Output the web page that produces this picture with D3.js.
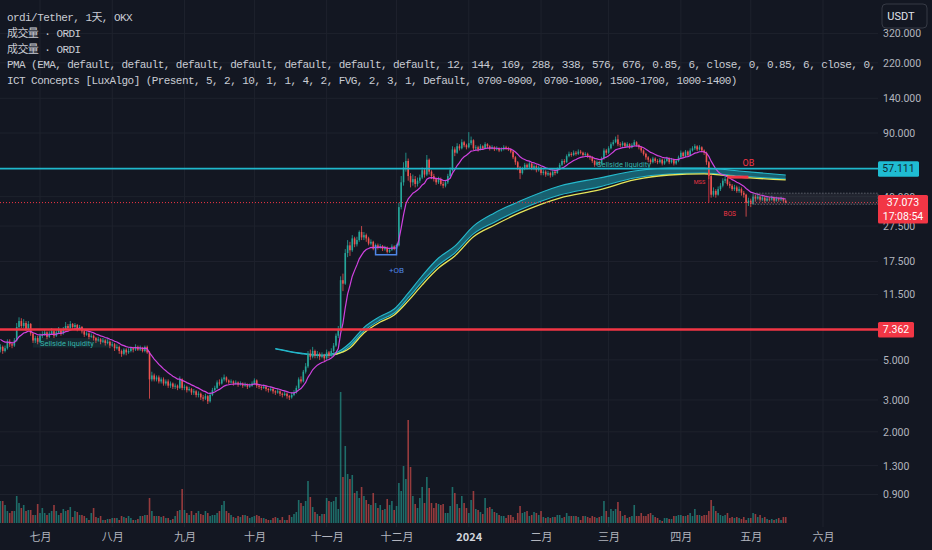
<!DOCTYPE html>
<html>
<head>
<meta charset="utf-8">
<script src="https://cdn.jsdelivr.net/npm/d3@7"></script>
<style>
  html, body { margin: 0; padding: 0; background: #131722; }
  svg { display: block; }
</style>
</head>
<body>
<svg id="chart"></svg>
<script>
// daily candles, first bar = 2023-06-14, open of each bar = previous close
var firstOpen = 5.7;
var closes = [
  5.9,5.6,5.8,6.3,6.1,6.0,6.4,7.6,8.2,7.7,
  8.0,7.4,7.9,7.0,6.4,6.6,6.3,6.8,6.9,7.1,
  6.7,7.0,7.2,6.8,7.1,7.3,7.0,7.4,7.7,7.5,
  7.9,7.6,7.8,7.4,7.6,7.2,6.9,7.0,6.7,6.8,
  6.6,6.4,6.5,6.3,6.4,6.2,6.3,6.0,6.1,5.8,
  5.9,5.6,5.4,5.7,5.5,5.6,5.8,5.7,5.9,5.7,
  5.8,5.6,5.9,5.5,3.9,4.1,3.9,4.0,3.8,3.9,
  3.7,3.8,3.6,3.7,3.55,3.6,3.5,3.9,3.5,3.55,
  3.4,3.45,3.3,3.35,3.2,3.25,3.1,3.05,3.15,2.95,
  3.2,3.4,3.5,3.75,3.7,3.9,4.0,3.85,3.75,3.8,
  3.7,3.75,3.65,3.7,3.6,3.65,3.55,3.6,3.7,3.85,
  3.6,3.55,3.5,3.55,3.45,3.4,3.45,3.35,3.3,3.35,
  3.25,3.2,3.25,3.15,3.1,3.2,3.3,3.5,3.9,3.8,
  4.3,4.6,5.4,5.2,5.6,5.3,5.4,5.2,5.3,5.1,
  5.5,5.3,5.6,6.0,6.8,7.4,13.8,13.2,19.5,21.5,
  20.2,23.5,21.8,23.0,25.5,23.8,24.5,23.5,22.0,22.5,
  20.6,21.5,21.0,21.3,20.5,20.9,19.8,20.3,21.2,20.6,
  21.5,35,48,58,63,52,48,50,47,49,
  51,56,53,64,55,52,50,48,50,47,
  46,48,52,56,73,70,76,74,80,77,
  75,79,82,74,75,73,76,74,78,76,
  74,75,73,74,72,73,75,74,73,71,
  66,62,58,54,57,60,58,61,57,59,
  56,58,54,55,53,54,52.5,55,54,57,
  60,63,62,67,69,68,70,69,71,70,
  68,69,67,66,63,60,62,61,65,72,
  70,74,78,80,83,78,77,79,76,78,
  75,77,80,77,75,72,69,66,64,62,
  65,63,62,64,61,63,65,62,64,61,
  63,66,70,67,71,68,72,74,76,73,
  75,72,70,62,52,41,43,41,44,46,
  49,50,47,46,44,45,43,44,42,41,
  37,38,36.5,40,39,40,38.5,39.5,38,39,
  38.5,39.5,38,39,38.5,39,38,37.073
];
var highs = [
  6.1,6.0,6.0,6.5,6.5,6.3,6.6,8.0,8.6,8.5,
  8.4,8.2,8.2,8.0,7.1,6.8,6.8,7.0,7.2,7.4,
  7.2,7.2,7.5,7.3,7.3,7.6,7.4,7.6,8.1,7.9,
  8.2,8.0,8.0,7.9,7.8,7.7,7.3,7.2,7.1,7.0,
  6.9,6.7,6.7,6.6,6.6,6.5,6.5,6.4,6.3,6.2,
  6.1,6.0,5.7,5.8,5.8,5.8,5.9,5.9,6.1,6.0,
  6.0,5.9,6.0,6.0,5.6,4.3,4.2,4.1,4.1,4.0,
  4.0,3.9,3.9,3.8,3.75,3.7,3.65,4.05,3.95,3.65,
  3.6,3.55,3.5,3.45,3.4,3.35,3.3,3.2,3.25,3.2,
  3.3,3.5,3.6,3.85,3.9,4.0,4.15,4.05,3.9,3.9,
  3.85,3.85,3.8,3.8,3.75,3.75,3.7,3.7,3.8,3.95,
  3.9,3.65,3.6,3.65,3.6,3.5,3.55,3.5,3.4,3.45,
  3.4,3.3,3.35,3.3,3.2,3.3,3.4,3.6,4.0,4.05,
  4.4,4.8,5.6,5.7,5.9,5.7,5.6,5.5,5.5,5.4,
  5.7,5.6,5.8,6.2,7.0,7.7,14.5,15.0,20.5,23.0,
  22.5,24.5,24.0,24.0,26.0,27.5,25.5,25.0,24.0,23.2,
  22.8,22.0,22.0,21.9,21.6,21.4,21.2,20.8,21.8,21.5,
  22.0,37,52,62,70,65,54,53,52,51,
  53,58,57,68,65,56,53.5,51,51.5,51,
  48.5,49.5,53.5,58,76,75,79,78,83,81.5,
  78.5,91,86,83,77,76.5,78,77,80,79,
  77,77,76,76,75,75,77,76.5,75.5,74,
  72,67,63,59,58.5,61.5,61,62.5,62,60.5,
  60,59.5,58.5,56.5,56,55.5,55,56,56.5,58,
  61.5,64.5,64.5,68.5,71,70.5,72,71.5,73,72.5,
  71,70.5,70,68,67,64,63.5,63,66.5,74,
  73.5,76,80,82.5,86,88,80,81,80,80,
  79,79,82.5,81,78,76,73,70,67,65,
  66.5,66,64.5,65.5,65,64.5,66.5,66,65.5,65,
  64.5,67.5,72,71,72.5,72,74,76,78,77,
  77,76,73,71,63,53,45,44,45.5,47.5,
  50.5,52,51,48.5,47,46.5,46,45.5,45,43,
  41.5,39.5,39,41,41,41.5,40.5,40.5,40,40,
  39.8,40.5,40,40,39.6,40,39.5,38.5
];
var lows = [
  5.5,5.4,5.5,5.7,5.9,5.8,5.9,6.3,7.4,7.5,
  7.5,7.2,7.3,6.8,6.2,6.2,6.1,6.2,6.6,6.8,
  6.5,6.6,6.9,6.6,6.7,7.0,6.8,6.9,7.3,7.3,
  7.4,7.4,7.4,7.2,7.3,7.0,6.7,6.8,6.5,6.6,
  6.4,6.2,6.3,6.1,6.2,6.0,6.1,5.8,5.9,5.6,
  5.7,5.4,5.2,5.3,5.3,5.4,5.5,5.5,5.6,5.6,
  5.6,5.5,5.5,5.4,3.05,3.8,3.8,3.8,3.7,3.7,
  3.6,3.6,3.5,3.5,3.45,3.45,3.4,3.45,3.4,3.4,
  3.3,3.35,3.2,3.2,3.1,3.1,3.0,2.95,3.0,2.85,
  2.9,3.15,3.35,3.45,3.6,3.65,3.8,3.75,3.65,3.7,
  3.6,3.65,3.55,3.6,3.5,3.55,3.45,3.5,3.55,3.65,
  3.5,3.45,3.4,3.45,3.35,3.3,3.35,3.25,3.2,3.25,
  3.15,3.1,3.15,3.05,3.0,3.05,3.15,3.25,3.45,3.7,
  3.75,4.2,4.5,5.0,5.1,5.1,5.1,5.0,5.1,4.9,
  5.0,5.1,5.2,5.5,5.9,6.6,7.2,12.0,13.0,18.5,
  18.8,19.8,21.0,21.2,22.5,23.0,23.0,22.5,21.5,21.5,
  20.2,20.0,20.4,20.6,20.0,20.1,19.4,19.5,20.0,20.2,
  20.3,21.2,34,46,55,49,45,46,45,45.5,
  47.5,50,51,52,53,50,48.5,46.5,47,46,
  44.5,45,47,51,55,67,69,72,73,75,
  73,74,77,72,72,71,72,72.5,73,74,
  72,73,71.5,72,70.5,71,72,72.5,71.5,69.5,
  64.5,60,56,50,53,56,56.5,57,56,56,
  54.5,55,52.5,52.5,51.5,52,51,51.5,52.5,53.5,
  56,59,60.5,61.5,66,66.5,67,67.5,68,68.5,
  66.5,67,65.5,64,61.5,58.5,59,59.5,60,64,
  68,69,73,76.5,79,76,75,75.5,74.5,75,
  73.5,74,76,75.5,73,70,67.5,64,62,60.5,
  61,61.5,60.5,61,59.5,60,62,60.5,61,59.5,
  60,62,65,65.5,66,66.5,67,71,72.5,71.5,
  72,70.5,68,60,50,39.5,40,39.5,40.5,43,
  45,47.5,46,44.5,43,43,42,42,40.5,39.5,
  31,35.5,35,36,37.5,38.5,37.5,37.8,37,37.5,
  37.6,38,37.2,37.5,37.5,37.8,37.3,36.8
];
// volume in millions of ORDI
var volumes = [
  2.2,2.2,1.8,1.2,1.0,1.2,1.2,2.7,2.0,1.5,
  1.8,1.2,1.3,1.3,0.8,0.8,1.9,1.0,1.5,1.0,
  0.8,1.0,1.2,1.8,1.2,0.8,1.0,1.4,1.2,1.3,
  1.6,0.6,1.2,1.1,0.8,0.8,0.7,0.5,0.3,1.0,
  1.5,0.6,0.5,0.7,0.3,0.3,0.4,0.4,0.5,0.5,
  0.5,0.3,0.7,0.6,0.5,0.7,0.5,0.3,0.3,0.4,
  0.7,0.7,0.8,0.8,2.5,1.2,0.7,0.7,0.7,0.6,
  0.7,0.5,0.5,0.3,0.4,0.7,1.2,1.3,3.4,1.3,
  1.0,0.8,1.2,0.8,1.0,1.2,0.9,0.8,1.2,1.0,
  0.7,0.8,0.8,1.0,1.2,1.8,2.2,1.2,1.0,0.8,
  0.6,0.5,0.7,0.6,0.8,0.8,0.7,0.5,0.6,0.7,
  0.8,0.7,0.5,0.5,0.4,0.3,0.3,0.5,0.6,0.5,
  0.3,0.6,0.3,0.3,0.8,0.6,0.9,1.1,2.3,2.0,
  1.7,2.2,4.2,2.6,1.6,1.1,0.9,0.7,0.9,0.9,
  2.5,2.2,2.1,2.2,2.6,1.4,13.1,4.6,7.7,4.9,
  4.4,4.8,3.0,3.2,2.5,3.6,2.7,2.3,1.9,1.8,
  3.0,2.0,1.5,1.8,1.3,1.4,2.4,1.8,2.2,1.3,
  1.7,4.0,3.2,5.7,4.4,10.3,5.6,2.7,1.9,1.5,
  2.5,3.6,2.0,4.6,3.5,2.0,1.5,2.0,1.9,1.8,
  1.9,1.0,1.0,1.7,3.6,3.0,1.9,1.5,2.7,2.0,
  1.5,1.0,2.3,3.2,1.4,1.3,1.1,0.9,2.5,1.5,
  1.6,1.4,1.1,1.0,0.8,0.7,0.7,0.5,0.8,0.8,
  0.6,0.3,1.0,1.7,1.0,1.1,1.2,0.7,0.8,1.1,
  1.0,0.8,1.2,0.6,0.5,0.6,0.5,0.6,0.6,0.8,
  0.8,0.5,0.6,1.0,0.7,0.7,0.7,0.7,0.6,0.3,
  0.7,0.7,0.6,0.5,0.7,0.6,0.5,0.6,0.7,2.2,
  1.2,0.6,1.4,1.2,1.4,2.1,1.2,0.7,0.8,0.5,
  0.6,0.7,1.8,0.7,0.7,1.0,0.7,0.7,0.9,1.0,
  0.8,0.6,0.5,0.3,0.2,0.5,0.5,0.4,0.4,0.7,
  0.7,0.8,0.8,0.7,0.7,0.8,1.0,0.7,1.4,0.8,
  0.8,0.7,0.8,0.8,1.2,2.3,1.7,1.2,1.0,0.8,
  0.7,0.8,1.0,0.5,0.6,0.5,0.6,0.5,0.4,0.6,
  0.3,0.5,0.5,1.0,0.9,0.6,0.8,0.5,0.6,0.4,
  0.3,0.4,0.3,0.4,0.5,0.3,0.6,0.6
];

var emaLength = 12;
var emaSeed = 6.6;
var tunnelBars = [118, 129, 138, 144, 150, 156, 163, 169, 175, 181, 188, 195, 203, 212, 223, 240, 257, 272, 287, 302, 317, 337];
var tunnelUpper = [5.78, 5.45, 5.32, 5.48, 6.2, 7.55, 8.7, 9.56, 11.7, 14.6, 18.3, 21.3, 27.5, 32.5, 37.8, 45.8, 50.7, 55.4, 57.6, 57.6, 55.4, 52.7];
var tunnelLower = [5.74, 5.41, 5.27, 5.36, 5.98, 7.22, 8.3, 9.08, 11.0, 13.5, 16.7, 19.5, 24.9, 28.9, 33.8, 40.8, 45.3, 50.7, 53.4, 54.1, 52.0, 50.1];
var slowBars = [143, 150, 156, 163, 169, 175, 181, 188, 195, 203, 212, 223, 240, 257, 272, 287, 302, 317, 337];
var slowLine = [5.33, 5.82, 7.04, 8.1, 8.86, 10.6, 13.0, 16.1, 18.8, 24.0, 27.8, 32.6, 39.3, 43.6, 49.5, 52.7, 53.4, 51.3, 49.5];

var priceTicks = [320, 220, 140, 90, 40, 27.5, 17.5, 11.5, 5, 3, 2, 1.3, 0.9];
var monthLabels = ['七月', '八月', '九月', '十月', '十一月', '十二月', '2024', '二月', '三月', '四月', '五月', '六月'];

var redLevel = 7.362;
var tealLevel = 57.111;
var lastPrice = 37.073;
var countdown = '17:08:54';

var legendLines = [
  'ordi/Tether, 1天, OKX',
  '成交量 · ORDI',
  '成交量 · ORDI',
  'PMA (EMA, default, default, default, default, default, default, default, 12, 144, 169, 288, 338, 576, 676, 0.85, 6, close, 0, 0.85, 6, close, 0,',
  'ICT Concepts [LuxAlgo] (Present, 5, 2, 10, 1, 1, 4, 2, FVG, 2, 3, 1, Default, 0700-0900, 0700-1000, 1500-1700, 1000-1400)'
];

var upColor = '#26a69a';
var downColor = '#ef5350';
var ictRed = '#f23645';
var plotRight = 878;

var width = 932;
var height = 550;

var svg = d3.select('#chart')
  .attr('width', width)
  .attr('height', height)
  .style('background', '#131722');

var startDay = Date.UTC(2023, 5, 14);
function barDate(i) { return new Date(startDay + i * 86400000); }

var x = d3.scaleUtc()
  .domain([new Date(Date.UTC(2023, 6, 1)), new Date(Date.UTC(2024, 5, 1))])
  .range([40, 823]);
var y = d3.scaleLog().domain([0.9, 320]).range([494.5, 33.4]);
var yVol = d3.scaleLinear().domain([0, 13.1]).range([523, 392]);

function bx(i) { return x(barDate(i)); }

var candles = closes.map(function (c, i) {
  return {
    i: i,
    o: i === 0 ? firstOpen : closes[i - 1],
    h: highs[i],
    l: lows[i],
    c: c,
    v: volumes[i]
  };
});

var monthTicks = d3.utcMonth.range(new Date(Date.UTC(2023, 6, 1)), new Date(Date.UTC(2024, 5, 2)));

svg.append('defs').append('clipPath').attr('id', 'plot')
  .append('rect').attr('x', 0).attr('y', 0).attr('width', plotRight).attr('height', 528);

// grid
var grid = svg.append('g');
grid.selectAll('.hg').data(priceTicks).enter().append('line')
  .attr('x1', 0).attr('x2', plotRight)
  .attr('y1', function (d) { return y(d); })
  .attr('y2', function (d) { return y(d); })
  .attr('stroke', '#1e222d');
grid.selectAll('.vg').data(monthTicks).enter().append('line')
  .attr('x1', function (d) { return x(d); })
  .attr('x2', function (d) { return x(d); })
  .attr('y1', 0).attr('y2', 527)
  .attr('stroke', '#1e222d');

var plot = svg.append('g').attr('clip-path', 'url(#plot)');

// volume
plot.append('g').selectAll('rect').data(candles).enter().append('rect')
  .attr('x', function (d) { return bx(d.i) - 0.8; })
  .attr('width', 1.6)
  .attr('y', function (d) { return yVol(d.v); })
  .attr('height', function (d) { return yVol(0) - yVol(d.v); })
  .attr('fill', function (d) { return d.c >= d.o ? upColor : downColor; })
  .attr('opacity', 0.6);

// sellside liquidity zone, left
plot.append('rect')
  .attr('x', bx(14)).attr('width', bx(47) - bx(14))
  .attr('y', y(6.6)).attr('height', y(5.85) - y(6.6))
  .attr('fill', 'rgba(38,166,154,0.12)');

// PMA tunnel
var tunnel = tunnelBars.map(function (b, k) { return {b: b, hi: tunnelUpper[k], lo: tunnelLower[k]}; });
plot.append('path').datum(tunnel)
  .attr('d', d3.area().curve(d3.curveMonotoneX)
    .x(function (d) { return bx(d.b); })
    .y0(function (d) { return y(d.lo); })
    .y1(function (d) { return y(d.hi); }))
  .attr('fill', 'rgba(30,170,190,0.5)');
['hi', 'lo'].forEach(function (k) {
  plot.append('path').datum(tunnel)
    .attr('d', d3.line().curve(d3.curveMonotoneX)
      .x(function (d) { return bx(d.b); })
      .y(function (d) { return y(d[k]); }))
    .attr('fill', 'none')
    .attr('stroke', '#25b9cc')
    .attr('stroke-width', 1.1);
});
plot.append('path').datum(slowBars.map(function (b, k) { return {b: b, v: slowLine[k]}; }))
  .attr('d', d3.line().curve(d3.curveMonotoneX)
    .x(function (d) { return bx(d.b); })
    .y(function (d) { return y(d.v); }))
  .attr('fill', 'none')
  .attr('stroke', '#e6e65a')
  .attr('stroke-width', 1.3);

// candles
var cg = plot.append('g');
cg.selectAll('line').data(candles).enter().append('line')
  .attr('x1', function (d) { return bx(d.i); })
  .attr('x2', function (d) { return bx(d.i); })
  .attr('y1', function (d) { return y(d.h); })
  .attr('y2', function (d) { return y(d.l); })
  .attr('stroke', function (d) { return d.c >= d.o ? upColor : downColor; })
  .attr('stroke-width', 0.8);
cg.selectAll('rect').data(candles).enter().append('rect')
  .attr('x', function (d) { return bx(d.i) - 0.8; })
  .attr('width', 1.6)
  .attr('y', function (d) { return y(Math.max(d.o, d.c)); })
  .attr('height', function (d) { return Math.max(0.8, Math.abs(y(d.o) - y(d.c))); })
  .attr('fill', function (d) { return d.c >= d.o ? upColor : downColor; });

// fast EMA
var ema = [];
var prev = emaSeed;
closes.forEach(function (c) {
  prev = prev + (c - prev) * 2 / (emaLength + 1);
  ema.push(prev);
});
plot.append('path').datum(ema)
  .attr('d', d3.line()
    .x(function (d, i) { return bx(i); })
    .y(function (d) { return y(d); }))
  .attr('fill', 'none')
  .attr('stroke', '#d042e0')
  .attr('stroke-width', 1.2);

// ICT levels
svg.append('line')
  .attr('x1', 0).attr('x2', plotRight)
  .attr('y1', y(lastPrice)).attr('y2', y(lastPrice))
  .attr('stroke', ictRed).attr('stroke-dasharray', '1,2');
svg.append('line')
  .attr('x1', 0).attr('x2', plotRight)
  .attr('y1', y(tealLevel)).attr('y2', y(tealLevel))
  .attr('stroke', '#1fb8cc').attr('stroke-width', 1.8);
svg.append('line')
  .attr('x1', 0).attr('x2', plotRight)
  .attr('y1', y(redLevel)).attr('y2', y(redLevel))
  .attr('stroke', ictRed).attr('stroke-width', 2.6);

var small = function (sel, size, color) {
  return sel.style('font-family', 'Roboto, sans-serif').style('font-size', size + 'px').attr('fill', color);
};

small(plot.append('text').attr('x', bx(17)).attr('y', y(6.15)).attr('dy', '0.35em').text('Sellside liquidity'), 7.5, '#35b5aa');
small(plot.append('text').attr('x', bx(256)).attr('y', y(tealLevel) - 2).attr('dy', '0.1em').text('Sellside liquidity'), 7.5, '#35b5aa');

// bullish order block
var ob = plot.append('g').attr('stroke', '#4f86e6').attr('stroke-width', 1.5).attr('fill', 'none');
ob.append('path').attr('d', 'M' + bx(161) + ',' + y(21.6) + 'V' + y(19.1) + 'H' + bx(170) + 'V' + y(21.6));
small(plot.append('text').attr('x', bx(170)).attr('y', y(15.7)).attr('dy', '0.35em').attr('text-anchor', 'middle').text('+OB'), 8, '#4f86e6');

// bearish structure
plot.append('line')
  .attr('x1', bx(304)).attr('x2', bx(304))
  .attr('y1', y(tealLevel)).attr('y2', y(lastPrice))
  .attr('stroke', ictRed).attr('stroke-width', 0.8);
plot.append('rect')
  .attr('x', bx(312)).attr('width', bx(321) - bx(312))
  .attr('y', y(51.3) - 1.5).attr('height', 3)
  .attr('fill', ictRed);
small(plot.append('text').attr('x', bx(321)).attr('y', y(61.4)).attr('dy', '0.35em').attr('text-anchor', 'middle').text('OB'), 9, ictRed);
small(plot.append('text').attr('x', bx(300)).attr('y', y(48.2)).attr('dy', '0.35em').attr('text-anchor', 'middle').text('MSS'), 5.5, ictRed);
small(plot.append('text').attr('x', bx(313)).attr('y', y(32.1)).attr('dy', '0.35em').attr('text-anchor', 'middle').text('BOS'), 6.5, ictRed);

// price axis
var yAxis = d3.axisRight(y).tickValues(priceTicks).tickFormat(d3.format('.3f')).tickSize(0).tickPadding(0);
var gy = svg.append('g').attr('transform', 'translate(883,0)').call(yAxis);
gy.select('.domain').remove();
gy.selectAll('text')
  .attr('fill', '#b2b5be')
  .style('font-family', 'Roboto, sans-serif')
  .style('font-size', '10.5px');

// liquidity box over the price
svg.append('rect')
  .attr('x', bx(323)).attr('width', plotRight - bx(323))
  .attr('y', y(41.8)).attr('height', y(36.3) - y(41.8))
  .attr('fill', 'rgba(120,123,134,0.15)')
  .attr('stroke', '#6a6d78').attr('stroke-dasharray', '1.5,1.5').attr('stroke-width', 0.8);

// time axis
var xAxis = d3.axisBottom(x).tickValues(monthTicks).tickSize(0).tickPadding(0)
  .tickFormat(function (d, i) { return monthLabels[i]; });
var gx = svg.append('g').attr('transform', 'translate(0,537)').call(xAxis);
gx.select('.domain').remove();
gx.selectAll('text')
  .attr('dy', '0.35em')
  .attr('fill', '#b2b5be')
  .style('font-family', '"Noto Sans CJK SC", sans-serif')
  .style('font-size', '11px')
  .filter(function (d, i) { return monthLabels[i] === '2024'; })
  .attr('fill', '#d1d4dc')
  .style('font-weight', 'bold');

// price tags
function tag(price, w, h, fill, color, lines) {
  var g = svg.append('g').attr('transform', 'translate(878,' + (y(price) - 7.5) + ')');
  g.append('rect').attr('width', w).attr('height', h).attr('rx', 1.5).attr('fill', fill);
  lines.forEach(function (t, k) {
    g.append('text')
      .attr('x', w / 2).attr('y', 7.5 + k * 13.5).attr('dy', '0.35em')
      .attr('text-anchor', 'middle')
      .attr('fill', color)
      .style('font-family', 'Roboto, sans-serif')
      .style('font-size', '10.5px')
      .text(t);
  });
}
tag(tealLevel, 41, 15.5, '#1fbcd2', '#0f2a33', [tealLevel.toFixed(3)]);
tag(lastPrice, 50, 28.5, ictRed, '#ffffff', [lastPrice.toFixed(3), countdown]);
tag(redLevel, 36, 15.5, ictRed, '#ffffff', [redLevel.toFixed(3)]);

// currency button
var btn = svg.append('g').attr('transform', 'translate(882,4)');
btn.append('rect').attr('width', 45).attr('height', 24).attr('rx', 4)
  .attr('fill', '#131722').attr('stroke', '#363a45');
btn.append('text').attr('x', 19).attr('y', 12).attr('dy', '0.35em')
  .attr('text-anchor', 'middle').attr('fill', '#e1e3ea')
  .style('font-family', 'Roboto, sans-serif').style('font-size', '11px')
  .text('USDT');

// legend
svg.append('g').attr('clip-path', 'url(#plot)')
  .selectAll('text').data(legendLines).enter().append('text')
  .attr('x', 7)
  .attr('y', function (d, i) { return [20.5, 36.5, 52.5, 68, 84][i]; })
  .attr('fill', '#c9ccd4')
  .style('font-family', '"Liberation Mono", "Noto Sans CJK SC", monospace')
  .style('font-size', '11px')
  .style('letter-spacing', '-0.57px')
  .style('white-space', 'pre')
  .text(function (d) { return d; });
</script>
</body>
</html>
